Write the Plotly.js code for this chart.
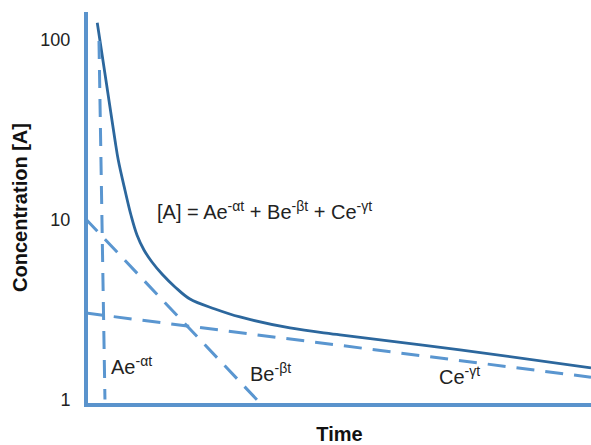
<!DOCTYPE html>
<html>
<head>
<meta charset="utf-8">
<script src="https://cdn.plot.ly/plotly-3.0.1.min.js"></script>
<style>html,body{margin:0;padding:0;background:#fff}#chart{width:591px;height:445px}</style>
</head>
<body>
<div id="chart"></div>
<script>
// Time (arbitrary units) and concentrations
var totalTime = [0.243, 0.429, 0.593, 0.658, 0.791, 0.909, 1.028, 1.166, 1.324, 1.522, 1.779, 2.075, 2.569, 3.063, 4.051, 5.040, 7.411, 10.0];
var totalConc = [124.9, 56.2, 27.8, 21.5, 14.6, 10.63, 8.23, 6.79, 5.82, 4.99, 4.23, 3.62, 3.19, 2.88, 2.50, 2.29, 1.89, 1.50];

var alphaTime = [0.277, 0.395];
var alphaConc = [98.7, 1.0];

var betaTime = [0.0, 3.5];
var betaConc = [10.2, 0.93];

var gammaTime = [0.0, 10.0];
var gammaConc = [3.03, 1.33];

var yTickVals = [1, 10, 100];
var yTickText = ['1', '10', '100'];

var solidColor = '#2c679d';
var dashColor = '#5a96d0';
var axisColor = '#5a93cc';
var font = 'Liberation Sans, Arial, sans-serif';

var traces = [
  {x: totalTime, y: totalConc, mode: 'lines', line: {color: solidColor, width: 2.8, shape: 'spline', smoothing: 1.0}, hoverinfo: 'skip'},
  {x: alphaTime, y: alphaConc, mode: 'lines', line: {color: dashColor, width: 3, dash: '18px,11px'}, hoverinfo: 'skip'},
  {x: betaTime, y: betaConc, mode: 'lines', line: {color: dashColor, width: 3, dash: '18px,11px'}, hoverinfo: 'skip'},
  {x: gammaTime, y: gammaConc, mode: 'lines', line: {color: dashColor, width: 3, dash: '18px,11px'}, hoverinfo: 'skip'}
];

var layout = {
  width: 591, height: 445,
  margin: {l: 88, r: 0, t: 12, b: 42},
  showlegend: false,
  paper_bgcolor: '#fff', plot_bgcolor: '#fff',
  font: {family: font, color: '#222', size: 18},
  xaxis: {
    range: [0.06, 10], showgrid: false, zeroline: false, showticklabels: false, ticks: '',
    showline: true, linecolor: axisColor, linewidth: 4,
    title: {text: '<b>Time</b>', font: {size: 20, color: '#111'}, standoff: 22}
  },
  yaxis: {
    type: 'log', range: [-0.0195, 2.156], showgrid: false, zeroline: false, ticks: '',
    tickvals: yTickVals, ticktext: yTickText, tickfont: {size: 18, color: '#222'},
    ticklabelstandoff: 10,
    showline: true, linecolor: axisColor, linewidth: 4,
    title: {text: '<b>Concentration [A]</b>', font: {size: 20, color: '#111'}, standoff: 8}
  },
  annotations: [
    {x: 1.38, xref: 'x', y: Math.log10(11.2), yref: 'y', xanchor: 'left', yanchor: 'middle', showarrow: false,
     text: '[A] = Ae<sup>-αt</sup> + Be<sup>-βt</sup> + Ce<sup>-γt</sup>', font: {size: 20, color: '#222'}},
    {x: 0.47, xref: 'x', y: Math.log10(1.55), yref: 'y', xanchor: 'left', yanchor: 'middle', showarrow: false,
     text: 'Ae<sup>-αt</sup>', font: {size: 20, color: '#222'}},
    {x: 3.22, xref: 'x', y: Math.log10(1.41), yref: 'y', xanchor: 'left', yanchor: 'middle', showarrow: false,
     text: 'Be<sup>-βt</sup>', font: {size: 20, color: '#222'}},
    {x: 6.96, xref: 'x', y: Math.log10(1.36), yref: 'y', xanchor: 'left', yanchor: 'middle', showarrow: false,
     text: 'Ce<sup>-γt</sup>', font: {size: 20, color: '#222'}}
  ]
};

Plotly.newPlot('chart', traces, layout, {staticPlot: true, displayModeBar: false});
</script>
</body>
</html>
